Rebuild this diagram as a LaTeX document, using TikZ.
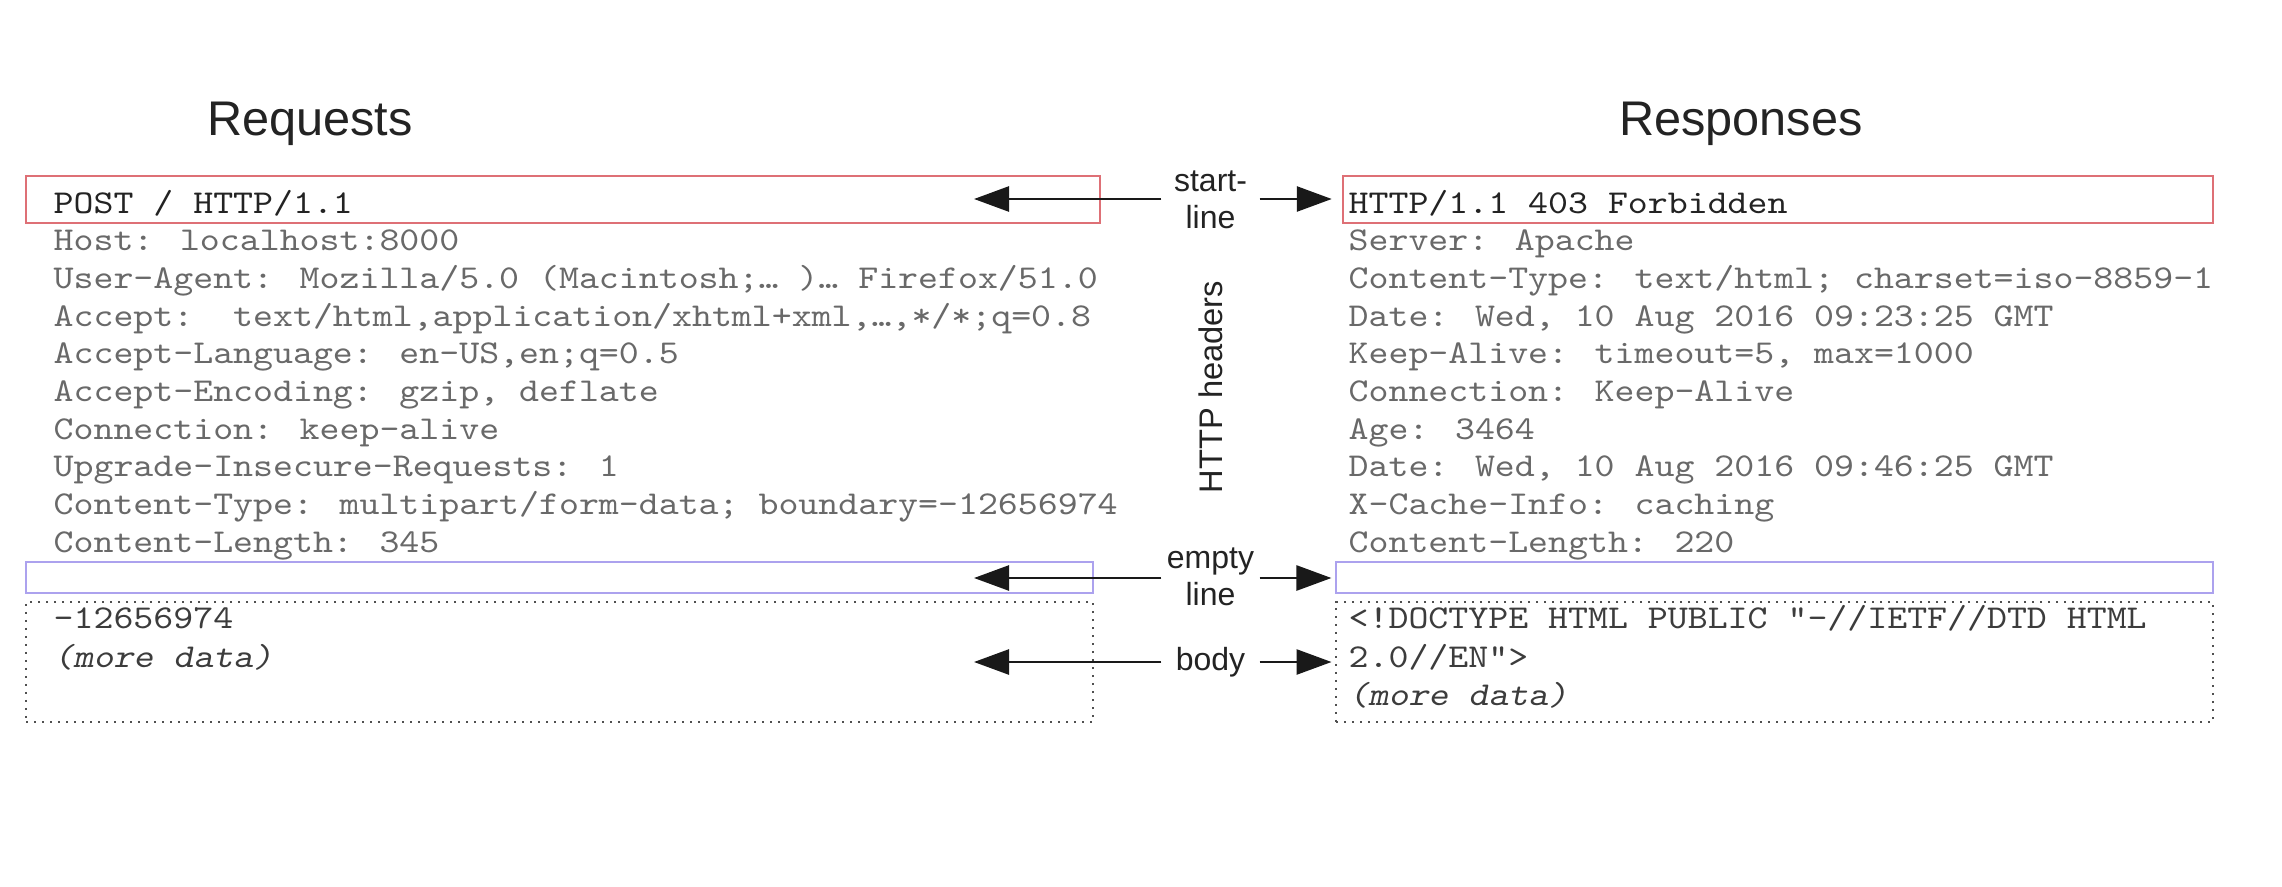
\documentclass[tikz,border=0pt]{standalone}
\usepackage{fontspec}
\setmainfont{Liberation Sans}
\newfontfamily\mono[FakeStretch=1.14]{Latin Modern Mono}
\newfontfamily\monosl[FakeStretch=1.14,FakeSlant=0.2]{Latin Modern Mono}
\usetikzlibrary{arrows.meta}
\definecolor{boxred}{RGB}{222,112,118}
\definecolor{boxblue}{RGB}{172,162,238}
\definecolor{hdrgray}{RGB}{105,105,105}
\definecolor{darktxt}{RGB}{35,35,35}
\definecolor{bodytxtc}{RGB}{60,60,60}
\definecolor{dotgray}{RGB}{80,80,80}
\begin{document}
\begin{tikzpicture}[x=0.3pt,y=-0.3pt,
  title/.style={font=\fontsize{14.6}{16}\selectfont, text=darktxt, inner sep=0, anchor=base},
  hdr/.style={font=\mono\fontsize{10}{11.3}\selectfont, text=hdrgray, inner sep=0, anchor=base west},
  firstln/.style={hdr, text=darktxt},
  bodyln/.style={hdr, text=bodytxtc},
  moreln/.style={hdr, text=bodytxtc, font=\monosl\fontsize{10}{11.3}\selectfont},
  startbox/.style={draw=boxred, line width=0.75pt, inner sep=0, minimum height=14.1pt},
  emptybox/.style={draw=boxblue, line width=0.75pt, inner sep=0, minimum height=9.3pt},
  bodybox/.style={draw=dotgray, line width=0.7pt, dash pattern=on 0.7pt off 1.7pt, inner sep=0, minimum height=36pt},
  lbl/.style={font=\fontsize{9.6}{11.2}\selectfont, text=darktxt, align=center, inner sep=0, minimum width=29.1pt},
  conn/.style={draw=black!90, line width=0.8pt, -{Triangle[length=10.5pt,width=7.5pt]}}
]
\useasboundingbox (0,0) rectangle (2282,886);
\fill[white] (0,0) rectangle (2282,886);

% titles
\node[title] (req) at (310,135) {Requests};
\node[title] (resp) at (1741,135) {Responses};

% boxes
\node[startbox, minimum width=322.2pt] (lstart) at (563,199.5) {};
\node[startbox, minimum width=261pt] (rstart) at (1778,199.5) {};
\node[emptybox, minimum width=320.1pt] (lempty) at (559.5,577.5) {};
\node[emptybox, minimum width=263.1pt] (rempty) at (1774.5,577.5) {};
\node[bodybox, minimum width=320.1pt] (lbody) at (559.5,662) {};
\node[bodybox, minimum width=263.1pt] (rbody) at (1774.5,662) {};

% request text
\node[firstln] (l0) at (53,213) {POST / HTTP/1.1};
\node[hdr] (l1) at (53,250.7) {Host: localhost:8000};
\node[hdr] (l2) at (53,288.4) {User-Agent: Mozilla/5.0 (Macintosh;… )… Firefox/51.0};
\node[hdr] (l3) at (53,326.1) {Accept:\ \ text/html,application/xhtml+xml,…,*/*;q=0.8};
\node[hdr] (l4) at (53,363.8) {Accept-Language: en-US,en;q=0.5};
\node[hdr] (l5) at (53,401.5) {Accept-Encoding: gzip, deflate};
\node[hdr] (l6) at (53,439.2) {Connection: keep-alive};
\node[hdr] (l7) at (53,476.9) {Upgrade-Insecure-Requests: 1};
\node[hdr] (l8) at (53,514.6) {Content-Type: multipart/form-data; boundary=-12656974};
\node[hdr] (l9) at (53,552.3) {Content-Length: 345};
\node[bodyln] (lb1) at (53,628) {-12656974};
\node[moreln] (lb2) at (53,667) {(more data)};

% response text
\node[firstln] (r0) at (1348,213) {HTTP/1.1 403 Forbidden};
\node[hdr] (r1) at (1348,250.7) {Server: Apache};
\node[hdr] (r2) at (1348,288.4) {Content-Type: text/html; charset=iso-8859-1};
\node[hdr] (r3) at (1348,326.1) {Date: Wed, 10 Aug 2016 09:23:25 GMT};
\node[hdr] (r4) at (1348,363.8) {Keep-Alive: timeout=5, max=1000};
\node[hdr] (r5) at (1348,401.5) {Connection: Keep-Alive};
\node[hdr] (r6) at (1348,439.2) {Age: 3464};
\node[hdr] (r7) at (1348,476.9) {Date: Wed, 10 Aug 2016 09:46:25 GMT};
\node[hdr] (r8) at (1348,514.6) {X-Cache-Info: caching};
\node[hdr] (r9) at (1348,552.3) {Content-Length: 220};
\node[bodyln] (rb1) at (1348,628) {<!DOCTYPE HTML PUBLIC "-//IETF//DTD HTML};
\node[bodyln] (rb2) at (1348,667) {2.0//EN">};
\node[moreln] (rb3) at (1348,705) {(more data)};

% middle labels
\node[lbl] (startlbl) at (1210.5,200) {start-\\line};
\node[lbl] (emptylbl) at (1210.5,577) {empty\\line};
\node[lbl] (bodylbl) at (1210.5,662) {body};
\node[font=\fontsize{9.8}{11}\selectfont, text=darktxt, rotate=90, anchor=base, inner sep=0] (hh) at (1222,387) {HTTP headers};

% arrow targets inside the request boxes
\coordinate (lsl) at (974,199);
\coordinate (lel) at (974,578);
\coordinate (lbl) at (974,662);

% connectors
\draw[conn] (startlbl.west |- lsl) -- (lsl);
\draw[conn, shorten >=3pt] (startlbl.east |- lsl) -- (rstart.west |- lsl);
\draw[conn] (emptylbl.west |- lel) -- (lel);
\draw[conn, shorten >=1pt] (emptylbl.east |- lel) -- (rempty.west |- lel);
\draw[conn] (bodylbl.west) -- (lbl);
\draw[conn, shorten >=1pt] (bodylbl.east) -- (rbody.west);
\end{tikzpicture}
\end{document}
